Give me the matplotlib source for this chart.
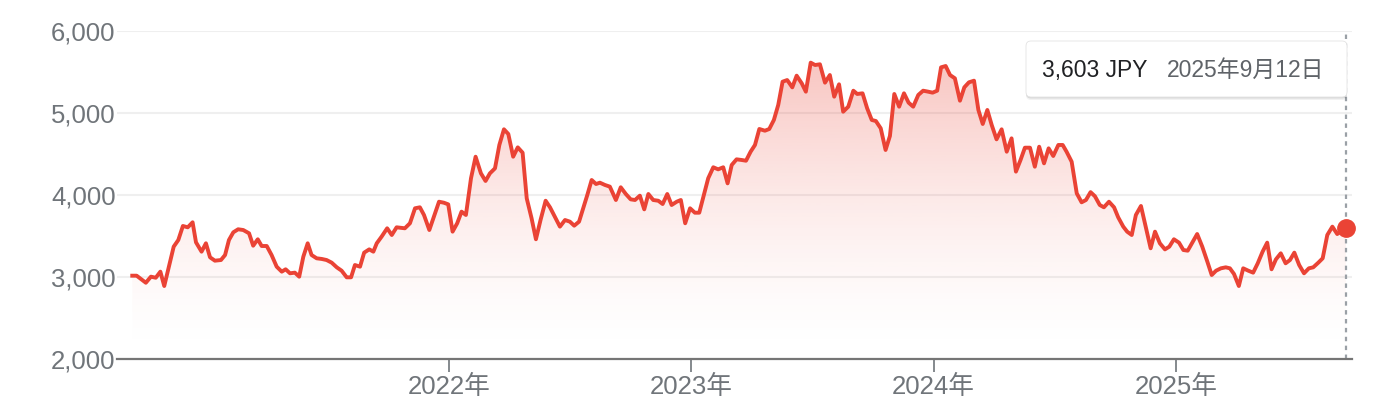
import numpy as np
import matplotlib
matplotlib.use("Agg")
import matplotlib.pyplot as plt
from matplotlib.patches import FancyBboxPatch
from matplotlib.colors import to_rgb
from matplotlib.transforms import IdentityTransform

plt.rcParams['font.family'] = ['Liberation Sans', 'Noto Sans CJK JP']

# weekly closes, time as fractional years
t = [2020.693, 2020.711, 2020.729, 2020.749, 2020.770, 2020.790, 2020.809, 2020.825, 2020.846, 2020.864,
     2020.883, 2020.902, 2020.922, 2020.942, 2020.956, 2020.979, 2020.997, 2021.014, 2021.034, 2021.059,
     2021.076, 2021.092, 2021.110, 2021.130, 2021.151, 2021.175, 2021.192, 2021.211, 2021.227, 2021.248,
     2021.268, 2021.289, 2021.310, 2021.326, 2021.344, 2021.364, 2021.382, 2021.399, 2021.417, 2021.433,
     2021.454, 2021.475, 2021.495, 2021.516, 2021.537, 2021.557, 2021.578, 2021.596, 2021.612, 2021.633,
     2021.650, 2021.671, 2021.688,
     2021.702, 2021.722, 2021.745, 2021.764, 2021.784, 2021.801, 2021.818, 2021.839, 2021.860, 2021.880,
     2021.897, 2021.919, 2021.938, 2021.959, 2021.979, 2021.997, 2022.015, 2022.034, 2022.052, 2022.070,
     2022.091, 2022.110, 2022.132, 2022.151, 2022.169, 2022.190, 2022.208, 2022.227, 2022.245, 2022.265,
     2022.284, 2022.304, 2022.321, 2022.341, 2022.359, 2022.378, 2022.399, 2022.417, 2022.437, 2022.458,
     2022.479, 2022.499, 2022.517, 2022.537, 2022.554, 2022.571, 2022.589, 2022.607, 2022.623, 2022.644,
     2022.664,
     2022.689, 2022.709, 2022.730, 2022.750, 2022.768, 2022.788, 2022.806, 2022.823, 2022.843, 2022.864,
     2022.882, 2022.901, 2022.919, 2022.940, 2022.957, 2022.975, 2022.995, 2023.015, 2023.033, 2023.052,
     2023.070, 2023.091, 2023.111, 2023.132, 2023.150, 2023.167, 2023.187, 2023.208, 2023.226, 2023.245,
     2023.263, 2023.281, 2023.304, 2023.322, 2023.341, 2023.359, 2023.377, 2023.396, 2023.417, 2023.435,
     2023.456, 2023.473, 2023.493, 2023.511, 2023.531, 2023.552, 2023.572, 2023.590, 2023.610, 2023.627,
     2023.648,
     2023.669, 2023.685, 2023.707, 2023.726, 2023.745, 2023.762, 2023.782, 2023.802, 2023.820, 2023.838,
     2023.858, 2023.878, 2023.897, 2023.916, 2023.937, 2023.957, 2023.978, 2023.996, 2024.015, 2024.031,
     2024.050, 2024.068, 2024.088, 2024.109, 2024.127, 2024.146, 2024.167, 2024.185, 2024.203, 2024.222,
     2024.240, 2024.260, 2024.281, 2024.302, 2024.322, 2024.340, 2024.359, 2024.377, 2024.398, 2024.418,
     2024.436, 2024.456, 2024.475, 2024.494, 2024.515, 2024.533, 2024.549, 2024.570, 2024.591, 2024.611,
     2024.629, 2024.648, 2024.666, 2024.686,
     2024.703, 2024.724, 2024.745, 2024.762, 2024.783, 2024.799, 2024.818, 2024.835, 2024.856, 2024.877,
     2024.896, 2024.914, 2024.934, 2024.955, 2024.973, 2024.992, 2025.013, 2025.031, 2025.049, 2025.068,
     2025.088, 2025.109, 2025.130, 2025.148, 2025.166, 2025.186, 2025.206, 2025.223, 2025.240, 2025.260,
     2025.278, 2025.299, 2025.319, 2025.338, 2025.358, 2025.377, 2025.395, 2025.413, 2025.433, 2025.453,
     2025.471, 2025.489, 2025.509, 2025.529, 2025.549, 2025.567, 2025.588, 2025.606, 2025.625, 2025.646,
     2025.666, 2025.702]

price = [3016, 3016, 2976, 2930, 3004, 2991, 3065, 2890, 3146, 3370,
         3451, 3622, 3606, 3667, 3423, 3309, 3411, 3240, 3199, 3207,
         3268, 3451, 3545, 3582, 3573, 3533, 3382, 3460, 3378, 3378,
         3268, 3126, 3065, 3094, 3045, 3053, 3004, 3248, 3411, 3268,
         3228, 3220, 3207, 3175, 3118, 3077, 2996, 2996, 3146, 3126,
         3297, 3337, 3309,
         3411, 3492, 3594, 3512, 3606, 3600, 3594, 3655, 3838, 3850,
         3756, 3573, 3735, 3918, 3906, 3886, 3553, 3655, 3797, 3756,
         4204, 4467, 4264, 4171, 4264, 4325, 4610, 4801, 4744, 4467,
         4581, 4516, 3959, 3716, 3460, 3695, 3930, 3850, 3735, 3614,
         3695, 3675, 3626, 3675, 3838, 4000, 4183, 4134, 4150, 4122,
         4102,
         3939, 4094, 4012, 3947, 3939, 3992, 3825, 4012, 3939, 3930,
         3890, 4012, 3878, 3918, 3939, 3655, 3838, 3784, 3784, 4000,
         4204, 4338, 4313, 4338, 4142, 4366, 4435, 4427, 4418, 4528,
         4610, 4805, 4784, 4805, 4915, 5098, 5382, 5402, 5313, 5455,
         5362, 5260, 5614, 5585, 5594, 5370, 5463, 5199, 5350, 5016,
         5077,
         5272, 5232, 5240, 5057, 4915, 4902, 4813, 4549, 4720, 5232,
         5077, 5240, 5126, 5077, 5220, 5272, 5260, 5248, 5272, 5557,
         5573, 5463, 5423, 5150, 5313, 5374, 5394, 5037, 4866, 5037,
         4854, 4679, 4801, 4528, 4691, 4285, 4427, 4577, 4577, 4345,
         4589, 4386, 4569, 4476, 4610, 4610, 4528, 4406, 4020, 3911,
         3939, 4035, 3985, 3878,
         3850, 3918, 3850, 3728, 3614, 3553, 3512, 3756, 3866, 3594,
         3350, 3553, 3411, 3337, 3370, 3460, 3419, 3329, 3321, 3419,
         3524, 3370, 3187, 3024, 3077, 3106, 3118, 3106, 3037, 2890,
         3106, 3077, 3053, 3167, 3309, 3419, 3094, 3215, 3289, 3167,
         3207, 3297, 3146, 3045, 3106, 3118, 3175, 3228, 3512, 3614,
         3524, 3603]

year_ticks = [2022, 2023, 2024, 2025]
year_labels = ["2022年", "2023年", "2024年", "2025年"]
y_ticks = [2000, 3000, 4000, 5000, 6000]
last_date = "2025年9月12日"
currency = "JPY"

RED = '#ea4335'
GRAY = '#70757a'
x0, x1 = 2020.630, 2025.727
y0, y1 = 2000, 6000

fig = plt.figure(figsize=(13.76, 4.2), dpi=100)
ax = fig.add_axes([117 / 1376, 61 / 420, 1235 / 1376, 328 / 420])

# light horizontal grid
for v in y_ticks[1:]:
    ax.axhline(v, color='#efefef', lw=1.5, zorder=0)

# gradient fill under the line (stronger near the top, fades out toward the base)
grad = np.zeros((256, 1, 4))
grad[..., :3] = to_rgb(RED)
grad[:, 0, 3] = 0.36 * np.linspace(1.0, 0.0, 256) ** 1.6
im = ax.imshow(grad, extent=[x0, x1, y0, y1], aspect='auto', origin='upper', zorder=1)
poly = ax.fill_between(t, price, y0, facecolor='none', edgecolor='none')
im.set_clip_path(poly.get_paths()[0], transform=ax.transData)

ax.axvline(t[-1], color='#9aa0a6', lw=1.6, ls=(0, (2, 2)), zorder=2)
ax.plot(t, price, color=RED, lw=2.8, solid_joinstyle='round', zorder=3)
ax.plot(t[-1], price[-1], 'o', ms=12.5, color=RED, zorder=4, clip_on=False)

ax.set_xlim(x0, x1)
ax.set_ylim(y0, y1)
for s in ['top', 'left', 'right']:
    ax.spines[s].set_visible(False)
ax.spines['bottom'].set_color('#757575')
ax.spines['bottom'].set_linewidth(1.6)
ax.spines['bottom'].set_zorder(5)

ax.set_xticks(year_ticks, year_labels)
ax.set_yticks(y_ticks, [f"{v:,}" for v in y_ticks])
ax.tick_params(axis='x', length=9.5, width=1.2, color=GRAY, labelcolor=GRAY, labelsize=18.5, pad=2)
ax.tick_params(axis='y', length=0, labelcolor=GRAY, labelsize=18.5, pad=1)

# tooltip
bx, by, bw, bh = 1026, 323, 321, 56
for off, a in [(3, 0.05), (1.5, 0.10)]:
    fig.patches.append(FancyBboxPatch((bx, by - off), bw, bh, boxstyle="round,pad=0,rounding_size=5",
                                      transform=IdentityTransform(), facecolor='black', edgecolor='none',
                                      alpha=a, zorder=8))
fig.patches.append(FancyBboxPatch((bx, by), bw, bh, boxstyle="round,pad=0,rounding_size=5",
                                  transform=IdentityTransform(), facecolor='white', edgecolor='#e3e3e3',
                                  lw=0.6, zorder=9))
fig.text(1042 / 1376, 1 - 70 / 420, f"{price[-1]:,} {currency}", va='center', ha='left',
         fontsize=16.5, color='#202124', zorder=10)
fig.text(1167 / 1376, 1 - 70 / 420, last_date, va='center', ha='left',
         fontsize=16.5, color='#5f6368', zorder=10)

fig.savefig("out.png", dpi=100)
